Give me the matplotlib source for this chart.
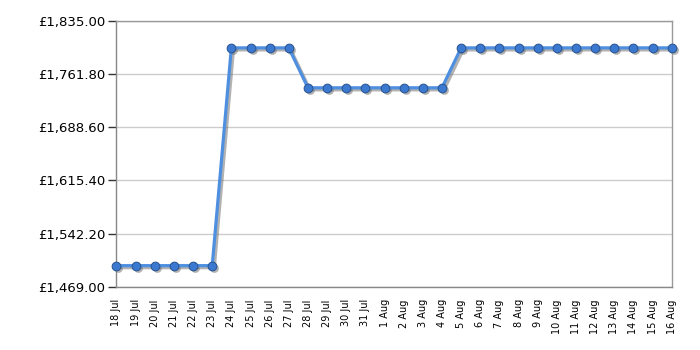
import matplotlib
matplotlib.use("Agg")
import matplotlib.pyplot as plt
from matplotlib.ticker import FixedLocator
from matplotlib.transforms import offset_copy

dates = ["18 Jul", "19 Jul", "20 Jul", "21 Jul", "22 Jul", "23 Jul", "24 Jul", "25 Jul",
         "26 Jul", "27 Jul", "28 Jul", "29 Jul", "30 Jul", "31 Jul", "1 Aug", "2 Aug",
         "3 Aug", "4 Aug", "5 Aug", "6 Aug", "7 Aug", "8 Aug", "9 Aug", "10 Aug",
         "11 Aug", "12 Aug", "13 Aug", "14 Aug", "15 Aug", "16 Aug"]
prices = [1498, 1498, 1498, 1498, 1498, 1498,
          1798, 1798, 1798, 1798,
          1743, 1743, 1743, 1743, 1743, 1743, 1743, 1743,
          1798, 1798, 1798, 1798, 1798, 1798, 1798, 1798, 1798, 1798, 1798, 1798]
y_ticks = [1469.00, 1542.20, 1615.40, 1688.60, 1761.80, 1835.00]
y_labels = ["£1,469.00", "£1,542.20", "£1,615.40", "£1,688.60", "£1,761.80", "£1,835.00"]

plt.rcParams['font.family'] = ['DejaVu Sans']
fig = plt.figure(figsize=(7, 3.5), dpi=100)
ax = fig.add_axes([0.1664, 0.1809, 0.7932, 0.7591])

x = list(range(len(dates)))
shadow_tr = offset_copy(ax.transData, fig=fig, x=2, y=-2, units='dots')
ax.plot(x, prices, color="#666666", alpha=0.5, lw=2.4, marker="o", ms=6.3,
        markerfacecolor="#666666", markeredgecolor="none", transform=shadow_tr,
        zorder=2, clip_on=False)
ax.plot(x, prices, color="#4f8fe0", lw=2.3, marker="o", ms=6.3,
        markerfacecolor="#3b78d0", markeredgecolor="#27528f", markeredgewidth=0.7,
        zorder=3, clip_on=False)

ax.set_xlim(0, len(dates) - 1)
ax.set_ylim(y_ticks[0], y_ticks[-1])

ax.set_yticks(y_ticks)
ax.set_yticklabels(y_labels, fontsize=9.5)
ax.set_xticks(x)
ax.set_xticklabels(dates, rotation=90, fontsize=7)
ax.xaxis.set_minor_locator(FixedLocator(x[::3]))
ax.tick_params(axis='x', which='major', length=0, pad=9)
ax.tick_params(axis='x', which='minor', length=5, width=1, color="#666666")
ax.tick_params(axis='y', length=6, width=1, color="#333333", pad=2)

ax.grid(False)
ax.grid(True, axis='x', which='minor', color="#cccccc", lw=1)
ax.grid(True, axis='y', which='major', color="#cccccc", lw=1)
ax.set_axisbelow(True)
for s in ax.spines.values():
    s.set_color("#999999")
    s.set_linewidth(1)
ax.spines['bottom'].set_color("#888888")
ax.spines['left'].set_color("#888888")

fig.savefig("out.png", dpi=100)
